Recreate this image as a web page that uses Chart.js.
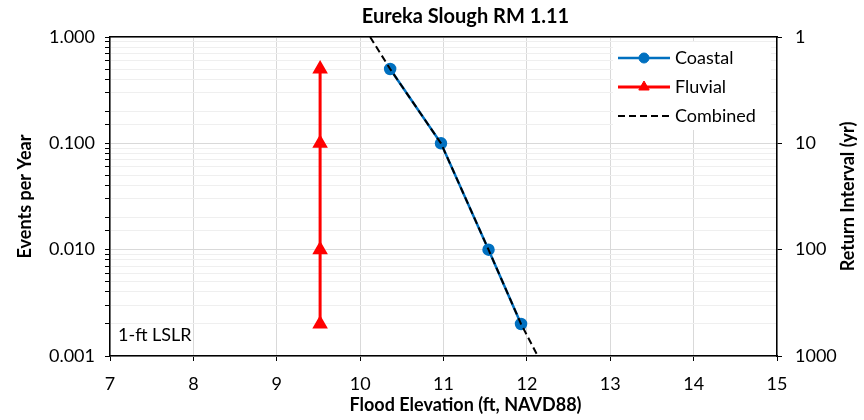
<!DOCTYPE html>
<html>
<head>
<meta charset="utf-8">
<script src="https://cdn.jsdelivr.net/npm/chart.js@4.4.1/dist/chart.umd.min.js"></script>
<style>
  html, body { margin: 0; padding: 0; background: #fff; }
  #wrap { width: 864px; height: 420px; }
</style>
</head>
<body>
<div id="wrap"><canvas id="chart"></canvas></div>
<script>
// Données
const coastalElev = [10.36, 10.97, 11.54, 11.93];
const coastalFreq = [0.5, 0.1, 0.01, 0.002];
const fluvialElev = [9.52, 9.52, 9.52, 9.52];
const fluvialFreq = [0.5, 0.1, 0.01, 0.002];
const combinedElev = [10.12, 10.36, 10.97, 11.54, 11.93, 12.13];
const combinedFreq = [1.0, 0.5, 0.1, 0.01, 0.002, 0.001];
const xTicks = [7, 8, 9, 10, 11, 12, 13, 14, 15];
const leftTickLabels = ['0.001', '0.010', '0.100', '1.000'];
const rightTickLabels = ['1', '10', '100', '1000'];

const FONT = 'Lato, "Open Sans", sans-serif';
const TITLE = 'Eureka Slough RM 1.11';
const X_TITLE = 'Flood Elevation (ft, NAVD88)';
const Y2_TITLE = 'Return Interval (yr)';

function isMajor(v) {
    const l = Math.log10(v);
    return Math.abs(l - Math.round(l)) < 1e-6;
}
function toPts(xs, ys) {
    return xs.map((x, i) => ({ x: x, y: ys[i] }));
}

// Légende dessinée dans la zone du graphique
const legendInside = {
    id: 'legendInside',
    afterDraw(chart) {
        const ctx = chart.ctx;
        const items = [0, 1, 2].map(i => chart.data.datasets[i]);
        const x0 = 618, y0 = 58, rowH = 29;
        ctx.save();
        ctx.fillStyle = '#fff';
        ctx.fillRect(613, 42, 158, 88);
        items.forEach((ds, i) => {
            const y = y0 + i * rowH;
            ctx.strokeStyle = ds.borderColor;
            ctx.lineWidth = ds.borderWidth;
            ctx.setLineDash(ds.borderDash || []);
            ctx.beginPath();
            ctx.moveTo(x0, y);
            ctx.lineTo(x0 + 52, y);
            ctx.stroke();
            ctx.setLineDash([]);
            if (ds.pointRadius > 0) {
                ctx.fillStyle = ds.pointBackgroundColor;
                ctx.strokeStyle = ds.pointBorderColor;
                ctx.lineWidth = 1;
                Chart.helpers.drawPoint(ctx, {
                    pointStyle: ds.pointStyle,
                    radius: ds.pointRadius,
                    rotation: 0,
                    borderWidth: 1
                }, x0 + 26, y);
            }
            ctx.fillStyle = '#000';
            ctx.font = '18px ' + FONT;
            ctx.textBaseline = 'middle';
            ctx.fillText(ds.label, x0 + 57, y);
        });
        ctx.restore();
    }
};

// Titre, titres d'axes et note (placés comme dans l'original)
const textLayer = {
    id: 'textLayer',
    afterDraw(chart) {
        const ctx = chart.ctx;
        const area = chart.chartArea;
        const cx = area.left + (area.right - area.left) / 2 + 22;
        const cy = area.top + (area.bottom - area.top) / 2;
        ctx.save();
        ctx.fillStyle = '#000';
        ctx.textBaseline = 'middle';
        ctx.textAlign = 'center';
        ctx.font = 'bold 20px ' + FONT;
        ctx.fillText(TITLE, cx, 17);
        ctx.font = 'bold 18px ' + FONT;
        ctx.fillText(X_TITLE, cx, 405);
        ctx.save();
        ctx.translate(848, cy);
        ctx.rotate(-Math.PI / 2);
        ctx.fillText(Y2_TITLE, 0, 0);
        ctx.restore();
        ctx.textAlign = 'left';
        ctx.font = '18px ' + FONT;
        ctx.fillText('1-ft LSLR', area.left + 8, 335);
        ctx.restore();
    }
};

new Chart(document.getElementById('chart'), {
    type: 'line',
    data: {
        datasets: [
            {
                label: 'Coastal',
                data: toPts(coastalElev, coastalFreq),
                borderColor: '#0070C0',
                backgroundColor: '#0070C0',
                pointBackgroundColor: '#0070C0',
                pointBorderColor: '#0070C0',
                borderWidth: 2.5,
                pointStyle: 'circle',
                pointRadius: 5,
                order: 1
            },
            {
                label: 'Fluvial',
                data: toPts(fluvialElev, fluvialFreq),
                borderColor: '#FF0000',
                backgroundColor: '#FF0000',
                pointBackgroundColor: '#FF0000',
                pointBorderColor: '#FF0000',
                borderWidth: 3,
                pointStyle: 'triangle',
                pointRadius: 6,
                order: 2
            },
            {
                label: 'Combined',
                data: toPts(combinedElev, combinedFreq),
                borderColor: '#000000',
                borderWidth: 2,
                borderDash: [7, 4],
                pointRadius: 0,
                order: 0
            }
        ]
    },
    options: {
        responsive: true,
        maintainAspectRatio: false,
        animation: false,
        layout: { padding: { top: 37, left: 0, right: 0, bottom: 0 } },
        plugins: {
            legend: { display: false },
            tooltip: { enabled: false },
            title: { display: false }
        },
        scales: {
            x: {
                type: 'linear',
                position: 'bottom',
                min: 7,
                max: 15,
                afterBuildTicks: s => { s.ticks = xTicks.map(v => ({ value: v })); },
                afterFit: s => { s.height = 64; },
                border: { color: '#000', width: 1.5 },
                grid: { color: '#d9d9d9', tickColor: '#000', tickLength: 5 },
                ticks: {
                    color: '#000',
                    font: { family: FONT, size: 18 },
                    padding: 12
                }
            },
            xTop: {
                type: 'linear',
                position: 'top',
                min: 7,
                max: 15,
                afterFit: s => { s.height = 0; },
                border: { color: '#000', width: 1.5 },
                grid: { drawOnChartArea: false, drawTicks: false },
                ticks: { display: false }
            },
            y: {
                type: 'logarithmic',
                position: 'left',
                min: 0.001,
                max: 1,
                afterFit: s => { s.width = 110; },
                border: { color: '#000', width: 1.5 },
                grid: {
                    color: c => isMajor(c.tick.value) ? '#d9d9d9' : '#efefef',
                    tickColor: '#000',
                    tickLength: 5
                },
                ticks: {
                    autoSkip: false,
                    color: '#000',
                    font: { family: FONT, size: 18 },
                    padding: 10,
                    callback: v => {
                        if (!isMajor(v)) return '';
                        return leftTickLabels[Math.round(Math.log10(v)) + 3];
                    }
                },
                title: {
                    display: true,
                    text: 'Events per Year',
                    color: '#000',
                    font: { family: FONT, size: 18, weight: 'bold' },
                    padding: { top: 14, bottom: 4 }
                }
            },
            y2: {
                type: 'logarithmic',
                position: 'right',
                reverse: true,
                min: 1,
                max: 1000,
                afterFit: s => { s.width = 87; },
                border: { color: '#000', width: 1.5 },
                grid: {
                    drawOnChartArea: false,
                    tickColor: c => isMajor(c.tick.value) ? '#000' : 'rgba(0,0,0,0)',
                    tickLength: 5
                },
                ticks: {
                    autoSkip: false,
                    color: '#000',
                    font: { family: FONT, size: 18 },
                    padding: 13,
                    callback: v => {
                        if (!isMajor(v)) return '';
                        return rightTickLabels[Math.round(Math.log10(v))];
                    }
                }
            }
        }
    },
    plugins: [legendInside, textLayer]
});
</script>
</body>
</html>
